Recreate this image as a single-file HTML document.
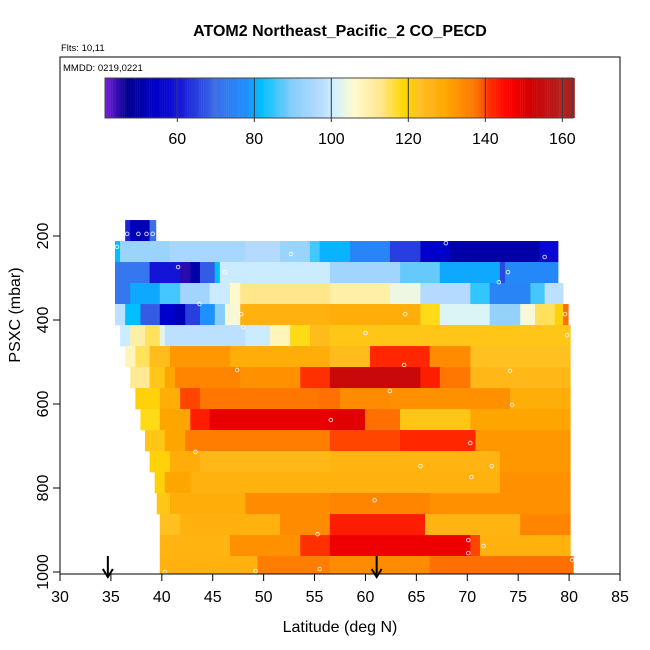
<!DOCTYPE html>
<html><head><meta charset="utf-8"><style>
body{margin:0;background:#fff}
svg{display:block;font-family:"Liberation Sans",sans-serif}
</style></head><body>
<svg id="chart" width="650" height="650" viewBox="0 0 650 650" xmlns="http://www.w3.org/2000/svg">
<text x="340" y="36" text-anchor="middle" font-size="16" font-weight="bold">ATOM2 Northeast_Pacific_2 CO_PECD</text>
<text x="61" y="51" font-size="9.5">Flts: 10,11</text>
<g id="heat"></g>
<g id="marks"></g>
<rect x="60" y="57" width="560" height="517" fill="none" stroke="#000" stroke-width="1"/>
<text x="63" y="71" font-size="9.5">MMDD: 0219,0221</text>
<g id="cbar"></g>
<g id="axes"></g>
<text x="340" y="632" text-anchor="middle" font-size="16">Latitude (deg N)</text>
<text transform="translate(20,315) rotate(-90)" text-anchor="middle" font-size="16">PSXC (mbar)</text>
</svg>
<script>
const xTicks=[30,35,40,45,50,55,60,65,70,75,80,85];
const yTicks=[200,400,600,800,1000];
const cbTicks=[60,80,100,120,140,160];
const cmapVals=[41,47,55,61,70,78,82,90,97,101,106,113,119,123,130,138,141,146,152,160,163];
const cmapCols=["#7b1fe0","#000090","#0000cd","#1818d8","#3b6fe8","#1e90ff","#00bfff","#87cefa","#b4daff","#d2f2ff","#fffacd","#ffe68a","#ffd700","#ffc020","#ffa500","#ff7000","#ff3000","#ff0000","#d00000","#b22222","#9e1e1e"];
const rowTopP=[162,212,262,312,362,412,462,512,562,612,662,712,762,812,862,912,962];
const rowSegs=[
[[36.4,36.9,62],[36.9,38.8,52],[38.8,39.4,70]],
[[35.4,35.9,82],[35.9,40.8,93],[40.8,48.2,95],[48.2,51.6,97],[51.6,54.55,93],[54.55,55.5,86],[55.5,56.5,81],[56.5,58.5,81],[58.5,62.4,75],[62.4,65.4,65],[65.4,68.3,55],[68.3,77.1,50],[77.1,78.9,57]],
[[35.4,38.8,72],[38.8,41.8,60],[41.8,42.8,45],[42.8,43.75,50],[43.75,45.2,68],[45.2,45.7,82],[45.7,56.5,100],[56.5,63.4,94],[63.4,67.3,88],[67.3,73.2,80],[73.2,73.7,66],[73.7,78.9,76]],
[[35.4,36.9,72],[36.9,39.8,80],[39.8,41.8,86],[41.8,44.7,94],[44.7,46.7,100],[46.7,47.7,106],[47.7,56.5,113],[56.5,62.4,110],[62.4,65.4,104],[65.4,70.3,97],[70.3,72.2,85],[72.2,76.2,75],[76.2,77.6,86],[77.6,79.4,98]],
[[35.4,36.4,98],[36.4,37.9,82],[37.9,39.8,68],[39.8,41.3,55],[41.3,42.3,52],[42.3,43.75,65],[43.75,45.2,78],[45.2,46.2,90],[46.2,47.7,105],[47.7,56.5,127],[56.5,65.4,128],[65.4,67.3,118],[67.3,72.2,102],[72.2,75.2,92],[75.2,76.65,105],[76.65,78.6,115],[78.6,79.4,120],[79.4,79.9,138]],
[[35.9,36.9,100],[36.9,38.35,110],[38.35,39.8,115],[39.8,40.3,103],[40.3,48.2,98],[48.2,50.6,100],[50.6,52.6,108],[52.6,54.55,118],[54.55,56.5,124],[56.5,80.1,122]],
[[36.4,37.4,108],[37.4,38.8,115],[38.8,40.8,124],[40.8,46.7,132],[46.7,56.5,128],[56.5,60.45,124],[60.45,66.3,142],[66.3,70.3,134],[70.3,80.1,123]],
[[36.9,38.8,112],[38.8,40.3,122],[40.3,41.3,130],[41.3,47.7,135],[47.7,53.6,133],[53.6,56.5,141],[56.5,65.4,154],[65.4,67.3,143],[67.3,70.3,137],[70.3,80.1,125]],
[[37.4,39.8,120],[39.8,41.8,128],[41.8,43.75,140],[43.75,55.5,137],[55.5,57.5,138],[57.5,62.4,134],[62.4,74.2,133],[74.2,80.1,128]],
[[37.9,39.8,118],[39.8,42.8,130],[42.8,44.7,143],[44.7,56.5,149],[56.5,59.95,150],[59.95,63.4,138],[63.4,70.3,122],[70.3,80.1,130]],
[[38.35,40.3,122],[40.3,42.3,130],[42.3,56.5,136],[56.5,63.4,140],[63.4,70.8,142],[70.8,80.1,132]],
[[38.8,40.8,120],[40.8,43.75,128],[43.75,56.5,125],[56.5,73.2,126],[73.2,80.1,132]],
[[39.3,40.3,120],[40.3,42.8,130],[42.8,56.5,127],[56.5,73.2,127],[73.2,80.1,133]],
[[39.5,40.8,122],[40.8,48.2,128],[48.2,56.5,134],[56.5,66.3,135],[66.3,80.1,133]],
[[39.8,41.8,123],[41.8,51.6,127],[51.6,56.5,134],[56.5,65.85,143],[65.85,75.2,126],[75.2,80.1,135]],
[[39.8,46.7,126],[46.7,53.6,133],[53.6,56.5,141],[56.5,70.3,148],[70.3,71.25,140],[71.25,80.1,127]],
[[39.8,49.4,127],[49.4,56.5,136],[56.5,66.3,134],[66.3,80.1,138],[80.1,80.4,138]]
];
const markLat=[36.6,37.7,38.5,39.1,35.6,52.7,67.9,77.6,41.6,46.2,74,73.1,43.7,47.8,63.9,79.6,48,60,79.8,47.4,63.8,74.2,62.4,74.4,56.6,70.3,43.3,65.4,72.4,70.4,60.9,55.3,70.1,70.1,71.6,40.3,49.2,55.5,80.3];
const markP=[195,195,195,195,226,243,217,250,274,286,286,310,362,386,386,386,417,431,436,519,507,521,569,602,638,693,714,748,748,774,829,910,924,955,938,1000,998,993,971];
const arrowLat=[34.7,61.1];

const NS="http://www.w3.org/2000/svg";
const X0=60,X1=620,LAT0=30,LAT1=85;
const xs=l=>X0+(l-LAT0)*(X1-X0)/(LAT1-LAT0);
const ys=p=>572-(1000-p)*0.42;
const cbx=v=>177.3+(v-60)*3.85;
function hex(c){return [1,3,5].map(i=>parseInt(c.substr(i,2),16));}
function col(v){
  if(v<=cmapVals[0])return cmapCols[0];
  for(let i=1;i<cmapVals.length;i++){
    if(v<=cmapVals[i]){
      const t=(v-cmapVals[i-1])/(cmapVals[i]-cmapVals[i-1]);
      const a=hex(cmapCols[i-1]),b=hex(cmapCols[i]);
      return "rgb("+a.map((x,j)=>Math.round(x+(b[j]-x)*t)).join(",")+")";
    }
  }
  return cmapCols[cmapCols.length-1];
}
function mk(tag,attrs,parent){const e=document.createElementNS(NS,tag);for(const k in attrs)e.setAttribute(k,attrs[k]);parent.appendChild(e);return e;}

const heat=document.getElementById('heat');
rowSegs.forEach((segs,k)=>{
  const yt=ys(rowTopP[k]);
  const yb=Math.min(ys(rowTopP[k]+50),574);
  segs.forEach(s=>{
    const r=mk('rect',{x:xs(s[0]),y:yt,width:xs(s[1])-xs(s[0])+0.5,height:yb-yt+0.3,fill:col(s[2])},heat);
    
    
  });
});
const marks=document.getElementById('marks');
markLat.forEach((l,i)=>{
  const c=mk('circle',{cx:xs(l),cy:ys(markP[i]),r:1.8,fill:'none',stroke:'#fff','stroke-width':0.9,opacity:0.85},marks);
  
  
});

const cb=document.getElementById('cbar');
for(let v=41.2;v<162.8;v+=0.5){
  const r=mk('rect',{x:cbx(v),y:78,width:2.1,height:40,fill:col(v+0.25)},cb);
  
  
}
mk('rect',{x:105,y:78,width:468,height:40,fill:'none',stroke:'#444','stroke-width':1},cb);
cbTicks.forEach(v=>{
  const x=cbx(v);
  mk('line',{x1:x,y1:78,x2:x,y2:122,stroke:'#333','stroke-width':1},cb);
  const t=mk('text',{x:x,y:144,'text-anchor':'middle','font-size':16},cb);
  t.textContent=v;
  
  
});

const ax=document.getElementById('axes');
xTicks.forEach(v=>{
  const x=xs(v);
  mk('line',{x1:x,y1:574,x2:x,y2:581,stroke:'#000'},ax);
  const t=mk('text',{x:x,y:602,'text-anchor':'middle','font-size':16},ax);
  t.textContent=v;
  
  
});
yTicks.forEach(v=>{
  const y=ys(v);
  mk('line',{x1:60,y1:y,x2:53,y2:y,stroke:'#000'},ax);
  const t=mk('text',{x:0,y:0,'text-anchor':'middle','font-size':16,transform:'translate(48,'+y+') rotate(-90)'},ax);
  t.textContent=v;
  
  
});
arrowLat.forEach(l=>{
  const x=xs(l);
  const g=mk('g',{},ax);
  
  
  mk('line',{x1:x,y1:556,x2:x,y2:577,stroke:'#000','stroke-width':2},g);
  mk('polyline',{points:(x-5)+',569 '+x+',577 '+(x+5)+',569',fill:'none',stroke:'#000','stroke-width':2},g);
});
</script>
</body></html>
